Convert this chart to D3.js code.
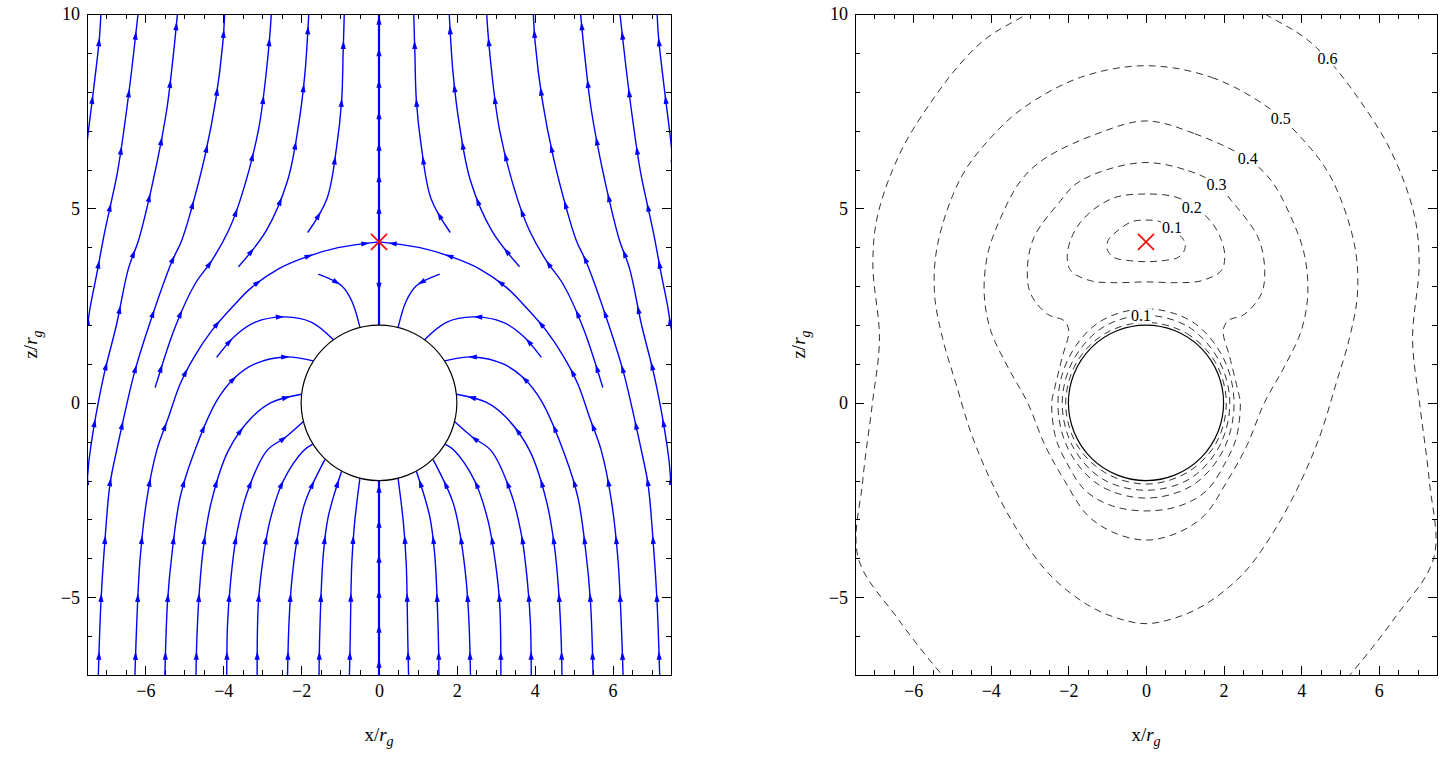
<!DOCTYPE html>
<html><head><meta charset="utf-8">
<script src="https://cdn.jsdelivr.net/npm/d3@7"></script>
<style>
body{margin:0;background:#fff}
svg{display:block}
text{font-family:"Liberation Serif","Times New Roman",serif}
</style>
</head><body>
<svg id="c" width="1443" height="759"></svg>
<script>
// ---------- axes ----------
const xDomain = [-7.5, 7.5];
const zDomain = [-7, 10];
const xMajorTicks = [-6, -4, -2, 0, 2, 4, 6];
const zMajorTicks = [-5, 0, 5, 10];
const horizonR = 2;
const stagnationX = 0, stagnationZ = 4.14;

// ---------- streamlines (left half, in flow order, data coords x/rg, z/rg) ----------
const slA = [[-7.6,5.8],[-7.53,6.40],[-7.47,6.95],[-7.32,8.15],[-7.18,9.40],[-7.14,10.08],[-7.13,10.3]];
const slB = [[-7.62,1.6],[-7.51,1.90],[-7.42,2.45],[-7.25,3.31],[-7.04,4.42],[-6.72,5.92],[-6.52,7.25],[-6.35,8.58],[-6.18,10.08],[-6.15,10.3]];
const slC = [[-7.62,-2.5],[-7.51,-2.09],[-7.45,-1.49],[-7.34,-0.72],[-7.08,0.65],[-6.74,2.02],[-6.44,3.44],[-6.18,4.17],[-6.01,4.81],[-5.71,6.14],[-5.45,7.55],[-5.28,8.97],[-5.17,10.08],[-5.15,10.3]];
const slD = [[-7.21,-7.02],[-7.14,-5.09],[-7.04,-3.55],[-6.91,-2.09],[-6.74,-1.23],[-6.63,-0.72],[-6.27,0.82],[-5.84,2.19],[-5.33,3.61],[-5.07,4.17],[-4.83,4.94],[-4.47,6.35],[-4.19,7.81],[-4.01,9.27],[-3.96,10.08],[-3.95,10.3]];
const slE = [[-5.75,0.39],[-5.24,1.94],[-4.73,3.05],[-4.30,3.65],[-3.87,4.42],[-3.57,5.20],[-3.10,7.00],[-2.86,8.84],[-2.76,10.08],[-2.75,10.3]];
const slF = [[-3.61,3.50],[-2.90,4.42],[-2.35,5.71],[-2.07,7.12],[-1.90,8.50],[-1.80,10.08],[-1.79,10.3]];
const slG = [[-1.83,4.38],[-1.34,5.24],[-1.09,6.57],[-0.96,7.77],[-0.92,9.05],[-0.89,10.08],[-0.89,10.3]];
const slSep = [[-6.27,-7.02],[-6.22,-5.61],[-6.14,-4.06],[-5.97,-2.52],[-5.71,-1.23],[-5.41,-0.38],[-5.11,0.48],[-4.73,1.21],[-4.30,1.85],[-3.78,2.45],[-3.27,2.97],[-2.59,3.44],[-1.90,3.74],[-1.05,3.99],[0,4.14]];
const slH = [[-5.50,-7.02],[-5.43,-5.09],[-5.31,-3.81],[-5.11,-2.44],[-4.78,-1.36],[-4.17,0.05],[-3.70,0.65],[-3.19,1.00],[-2.41,1.18],[-1.69,1.08]];
const slI = [[-4.70,-7.02],[-4.68,-6.12],[-4.62,-4.92],[-4.51,-3.72],[-4.30,-2.52],[-3.87,-1.23],[-3.27,-0.38],[-2.76,0.01],[-1.99,0.22]];
const slJ = [[-3.91,-7.02],[-3.89,-5.69],[-3.81,-4.58],[-3.67,-3.46],[-3.40,-2.35],[-2.88,-1.23],[-2.41,-0.89],[-1.94,-0.48]];
const slK = [[-3.13,-7.02],[-3.10,-5.18],[-2.99,-4.11],[-2.80,-3.03],[-2.46,-2.01],[-1.94,-1.23],[-1.70,-1.06]];
const slL = [[-2.35,-7.02],[-2.31,-5.61],[-2.24,-4.58],[-2.11,-3.55],[-1.90,-2.56],[-1.39,-1.46]];
const slM = [[-1.54,-7.02],[-1.52,-5.86],[-1.43,-3.89],[-1.30,-2.91],[-0.96,-1.76]];
const slN = [[-0.76,-7.02],[-0.74,-6.12],[-0.70,-4.15],[-0.63,-3.12],[-0.49,-1.94]];
const slO = [[-4.17,1.17],[-3.70,1.72],[-3.19,2.07],[-2.41,2.21],[-1.73,2.07],[-1.17,1.62]];
const slP = [[-1.56,3.31],[-0.96,3.01],[-0.70,2.62],[-0.49,1.94]];
const streamlinesLeft = [slA, slB, slC, slD, slE, slF, slG, slSep, slH, slI, slJ, slK, slL, slM, slN, slO, slP];

// on-axis streamlines
const axisBelow = [[0,-7.02],[0,-2]];
const axisDown  = [[0,4.14],[0,2]];
const axisUp    = [[0,4.14],[0,10.3]];

// ---------- contours (right half, top -> bottom, data coords) ----------
const contour01 = [[0,4.70],[0.36,4.66],[0.74,4.42],[0.98,4.17],[1.00,3.95],[0.83,3.74],[0.36,3.65],[0,3.63]];
const contour02 = [[0,5.37],[0.74,5.30],[1.26,5.04],[1.70,4.63],[1.95,4.17],[2.03,3.74],[1.94,3.40],[1.43,3.14],[0.82,3.09],[0,3.11]];
const contour03 = [[0,6.18],[1.09,5.97],[1.82,5.62],[2.20,5.20],[2.89,4.25],[3.06,3.40],[2.97,2.80],[2.54,2.28],[2.11,2.11],[1.99,1.85],[2.16,1.17],[2.37,0.31],[2.43,0],[2.33,-0.89],[2.07,-1.49],[1.56,-2.26],[0.87,-2.65],[0,-2.78]];
const contour04 = [[0,7.25],[1.26,6.92],[2.63,6.27],[3.23,5.71],[3.74,4.77],[4.08,3.82],[4.17,2.80],[4.00,1.85],[3.55,0.9],[3.05,0],[2.6,-1.1],[2.1,-2.0],[1.5,-2.9],[0.8,-3.35],[0,-3.53]];
const contour05 = [[0,8.67],[1.69,8.37],[3.14,7.60],[4.00,6.82],[4.77,5.79],[5.37,4.08],[5.45,2.80],[5.24,1.65],[4.9,0.5],[4.5,-0.8],[4.0,-2.0],[3.3,-3.3],[2.5,-4.4],[1.5,-5.2],[0.7,-5.55],[0,-5.68]];
const contour06 = [[0,10.9],[2.0,10.6],[3.06,10.0],[4.08,9.40],[4.68,8.84],[5.46,7.85],[6.31,6.48],[6.91,4.85],[7.04,3.57],[6.87,1.64],[7.05,0],[7.3,-2.0],[7.42,-3.98],[6.42,-5.52],[5.27,-6.98],[4.5,-7.8],[2.5,-8.6],[0,-8.9]];
const holeContourA = [[0,2.07],[1.04,1.79],[1.79,1.04],[2.07,0],[1.80,-1.05],[1.05,-1.80],[0,-2.09]];
const holeContourB = [[0,2.25],[1.1,1.95],[1.88,1.09],[2.16,0],[1.89,-1.12],[1.12,-1.96],[0,-2.25]];
const holeContourC = [[0,2.42],[1.2,2.08],[1.99,1.16],[2.27,0],[2.0,-1.2],[1.2,-2.12],[0,-2.45]];
const contourHalves = [contour01, contour02, contour03, contour04, contour05, contour06, holeContourA, holeContourB, holeContourC];

const contourLabelText = ["0.6","0.5","0.4","0.3","0.2","0.1","0.1"];
const contourLabelX    = [4.68, 3.47, 2.62, 1.82, 1.18, 0.67, -0.13];
const contourLabelZ    = [8.85, 7.30, 6.28, 5.61, 5.02, 4.50, 2.24];

// ---------- drawing ----------
const svg = d3.select("#c");
const TOP = 14, BOTTOM = 675;
const SERIF = "Liberation Serif, Times New Roman, serif";
function makePanel(x0, x1, id){
  const x = d3.scaleLinear().domain(xDomain).range([x0, x1]);
  const z = d3.scaleLinear().domain(zDomain).range([BOTTOM, TOP]);
  svg.append("defs").append("clipPath").attr("id", id)
    .append("rect").attr("x", x0).attr("y", TOP).attr("width", x1 - x0).attr("height", BOTTOM - TOP);
  return {x, z, x0, x1, id};
}
const PL = makePanel(87, 671, "clipL");
const PR = makePanel(855, 1437, "clipR");

// Left panel: streamlines
const gS = svg.append("g").attr("clip-path", "url(#clipL)");
const lineL = d3.line().x(d => PL.x(d[0])).y(d => PL.z(d[1])).curve(d3.curveCatmullRom.alpha(0.5));
const BLUE = "#0000ff";
function drawStream(pts, spacing, offset, width){
  const p = gS.append("path").attr("d", lineL(pts)).attr("fill", "none")
    .attr("stroke", BLUE).attr("stroke-width", width).attr("stroke-linejoin","round");
  const node = p.node(), len = node.getTotalLength();
  for (let s = offset; s < len - 4; s += spacing){
    const a = node.getPointAtLength(s), b = node.getPointAtLength(Math.min(len, s + 2));
    let dx = b.x - a.x, dy = b.y - a.y; const n = Math.hypot(dx, dy) || 1; dx /= n; dy /= n;
    const px = -dy, py = dx;
    const tx = a.x + dx*4.5, ty = a.y + dy*4.5;
    const bx = a.x - dx*4, by = a.y - dy*4;
    gS.append("path")
      .attr("d", `M${tx},${ty}L${bx+px*2.6},${by+py*2.6}L${bx-px*2.6},${by-py*2.6}Z`)
      .attr("fill", BLUE);
  }
}
streamlinesLeft.forEach(pts => {
  drawStream(pts, 58, 20, 1.4);
  drawStream(pts.map(d => [-d[0], d[1]]), 58, 20, 1.4);
});
drawStream(axisBelow, 35, 12, 2.2);
drawStream(axisDown, 200, 45, 2.2);
drawStream(axisUp, 31.5, 32, 2.2);

// Right panel: contours
const gC = svg.append("g").attr("clip-path", "url(#clipR)");
const lineR = d3.line().x(d => PR.x(d[0])).y(d => PR.z(d[1])).curve(d3.curveCatmullRomClosed.alpha(0.5));
contourHalves.forEach(half => {
  const mirrored = half.slice(1, -1).reverse().map(d => [-d[0], d[1]]);
  const full = half.concat(mirrored);
  gC.append("path").attr("d", lineR(full)).attr("fill", "none")
    .attr("stroke", "#333").attr("stroke-width", 1).attr("stroke-dasharray", "7,5");
});
contourLabelText.forEach((t, i) => {
  const cx = PR.x(contourLabelX[i]), cy = PR.z(contourLabelZ[i]);
  const tx = gC.append("text").attr("x", cx).attr("y", cy).attr("text-anchor", "middle")
    .attr("dominant-baseline", "central").attr("font-size", 16).attr("font-family", SERIF).text(t);
  const bb = tx.node().getBBox();
  gC.insert("rect", () => tx.node()).attr("x", bb.x - 1).attr("y", bb.y + 1)
    .attr("width", bb.width + 2).attr("height", bb.height - 2).attr("fill", "#fff");
});

// horizons + stagnation markers
[PL, PR].forEach(P => {
  svg.append("ellipse").attr("cx", P.x(0)).attr("cy", P.z(0))
    .attr("rx", P.x(horizonR) - P.x(0)).attr("ry", P.z(0) - P.z(horizonR))
    .attr("fill", "#fff").attr("stroke", "#000").attr("stroke-width", 1.2);
  const sx = P.x(stagnationX), sy = P.z(stagnationZ), r = 8;
  svg.append("path").attr("d", `M${sx-r},${sy-r}L${sx+r},${sy+r}M${sx-r},${sy+r}L${sx+r},${sy-r}`)
    .attr("stroke", "#ff0000").attr("stroke-width", 1.6).attr("fill", "none");
});

// frames, ticks, labels
const xMinorTicks = d3.range(-7, 7.01, 0.5).filter(v => !xMajorTicks.includes(v));
const zMinorTicks = d3.range(-6, 10, 1).filter(v => !zMajorTicks.includes(v));
[PL, PR].forEach(P => {
  const g = svg.append("g").attr("shape-rendering", "crispEdges");
  const add = (axis, tr) => g.append("g").attr("transform", tr).call(axis)
    .call(a => a.select(".domain").remove())
    .attr("font-size", 18).attr("font-family", SERIF);
  const fmt = d3.format("d");
  add(d3.axisBottom(P.x).tickValues(xMajorTicks).tickSize(-9).tickPadding(9).tickFormat(fmt), `translate(0,${BOTTOM})`);
  add(d3.axisBottom(P.x).tickValues(xMinorTicks).tickSize(-5).tickFormat(""), `translate(0,${BOTTOM})`);
  add(d3.axisTop(P.x).tickValues(xMajorTicks).tickSize(-9).tickFormat(""), `translate(0,${TOP})`);
  add(d3.axisTop(P.x).tickValues(xMinorTicks).tickSize(-5).tickFormat(""), `translate(0,${TOP})`);
  add(d3.axisLeft(P.z).tickValues(zMajorTicks).tickSize(-9).tickPadding(7).tickFormat(fmt), `translate(${P.x0},0)`);
  add(d3.axisLeft(P.z).tickValues(zMinorTicks).tickSize(-5).tickFormat(""), `translate(${P.x0},0)`);
  add(d3.axisRight(P.z).tickValues(zMajorTicks).tickSize(-9).tickFormat(""), `translate(${P.x1},0)`);
  add(d3.axisRight(P.z).tickValues(zMinorTicks).tickSize(-5).tickFormat(""), `translate(${P.x1},0)`);
  g.selectAll("text").attr("fill", "#000");
  svg.append("rect").attr("x", P.x0).attr("y", TOP).attr("width", P.x1 - P.x0).attr("height", BOTTOM - TOP)
    .attr("fill", "none").attr("stroke", "#000").attr("stroke-width", 1).attr("shape-rendering", "crispEdges");
  // axis titles
  const cx = (P.x0 + P.x1) / 2;
  const xt = svg.append("text").attr("x", cx).attr("y", 741).attr("text-anchor", "middle")
    .attr("font-size", 19).attr("font-family", SERIF);
  xt.append("tspan").text("x/");
  xt.append("tspan").attr("font-style", "italic").text("r");
  xt.append("tspan").attr("font-style", "italic").attr("font-size", 14).attr("dy", 5).text("g");
  const cy = (TOP + BOTTOM) / 2;
  const yt = svg.append("text").attr("transform", `translate(${P.x0 - 50},${cy}) rotate(-90)`)
    .attr("text-anchor", "middle").attr("font-size", 19).attr("font-family", SERIF);
  yt.append("tspan").text("z/");
  yt.append("tspan").attr("font-style", "italic").text("r");
  yt.append("tspan").attr("font-style", "italic").attr("font-size", 14).attr("dy", 5).text("g");
});
</script>
</body></html>
